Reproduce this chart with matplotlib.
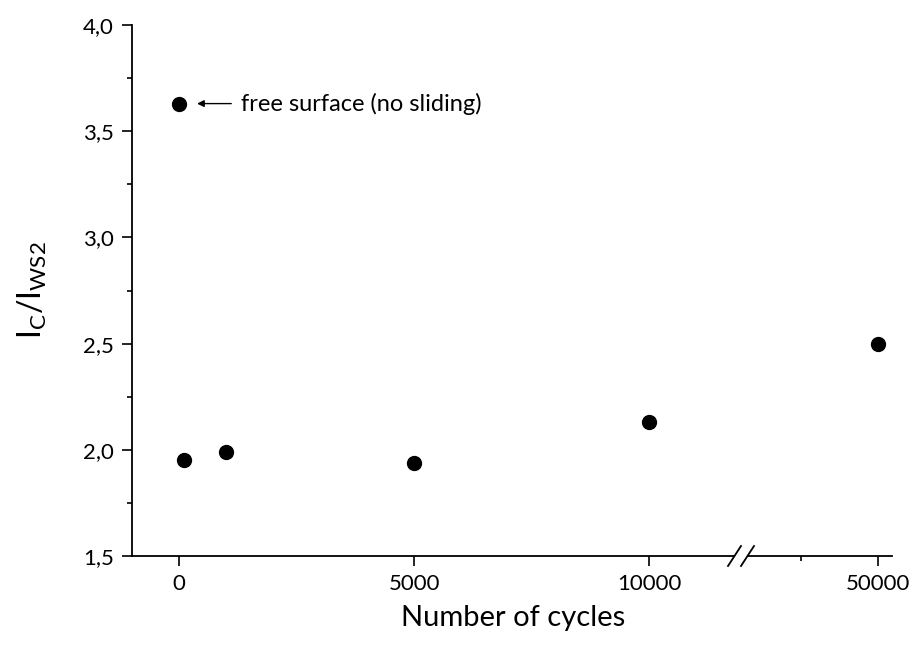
import matplotlib
matplotlib.use("Agg")
import matplotlib.pyplot as plt
from matplotlib.ticker import MultipleLocator, FixedLocator, FuncFormatter

plt.rcParams['font.family'] = ['Lato', 'DejaVu Sans']
plt.rcParams['mathtext.fontset'] = 'custom'
plt.rcParams['mathtext.rm'] = 'Lato'

# data
cycles = [0, 100, 1000, 5000, 10000, 50000]
ratio = [3.63, 1.95, 1.99, 1.94, 2.13, 2.50]
ticks_left = [0, 5000, 10000]
ticks_right = [50000]

W, H = 911, 659
fig = plt.figure(figsize=(W / 100, H / 100), dpi=100)

def box(x0, x1, y0=25, y1=556):
    return [x0 / W, 1 - y1 / H, (x1 - x0) / W, (y1 - y0) / H]

ax1 = fig.add_axes(box(132, 734))
ax2 = fig.add_axes(box(748, 892), sharey=ax1)

for ax in (ax1, ax2):
    ax.plot(cycles, ratio, 'o', color='black', ms=10, clip_on=False)
    ax.spines['top'].set_visible(False)
    ax.spines['right'].set_visible(False)
    ax.spines['bottom'].set_linewidth(1.3)
    ax.spines['left'].set_linewidth(1.3)
    ax.tick_params(which='major', direction='out', length=7, width=1.2, labelsize=16, pad=6)
    ax.tick_params(which='minor', direction='out', length=3.5, width=1.2)

ax1.set_xlim(-1000, 11800)
ax2.set_xlim(45800, 50460)
ax1.set_ylim(1.5, 4.0)
ax1.xaxis.set_major_locator(FixedLocator(ticks_left))
ax2.xaxis.set_major_locator(FixedLocator(ticks_right))
ax2.xaxis.set_minor_locator(FixedLocator([47500]))
ax1.yaxis.set_major_locator(MultipleLocator(0.5))
ax1.yaxis.set_minor_locator(MultipleLocator(0.25))
ax1.yaxis.set_major_formatter(FuncFormatter(lambda v, p: f"{v:.1f}".replace('.', ',')))
ax2.spines['left'].set_visible(False)
ax2.tick_params(axis='y', which='both', left=False, labelleft=False)

# break marks
for xp in (734.5, 747.5):
    fig.add_artist(plt.Line2D([(xp - 6.5) / W, (xp + 6.5) / W],
                              [1 - 566 / H, 1 - 546 / H], color='black', lw=1.3))

ax1.annotate('free surface (no sliding)', xy=(cycles[0], ratio[0]),
             xytext=(44.6, 0), textcoords='offset points',
             va='center', ha='left', fontsize=17,
             arrowprops=dict(arrowstyle='-|>', color='black', lw=1.0,
                             mutation_scale=10, shrinkA=5, shrinkB=13))

fig.text(513 / W, 1 - 618 / H, 'Number of cycles', ha='center', va='center', fontsize=21)
fig.text(32 / W, 1 - 290 / H, r'$\mathregular{I_C/I_{WS2}}$', ha='center', va='center',
         rotation=90, fontsize=23)

fig.savefig('out.png', dpi=100)
